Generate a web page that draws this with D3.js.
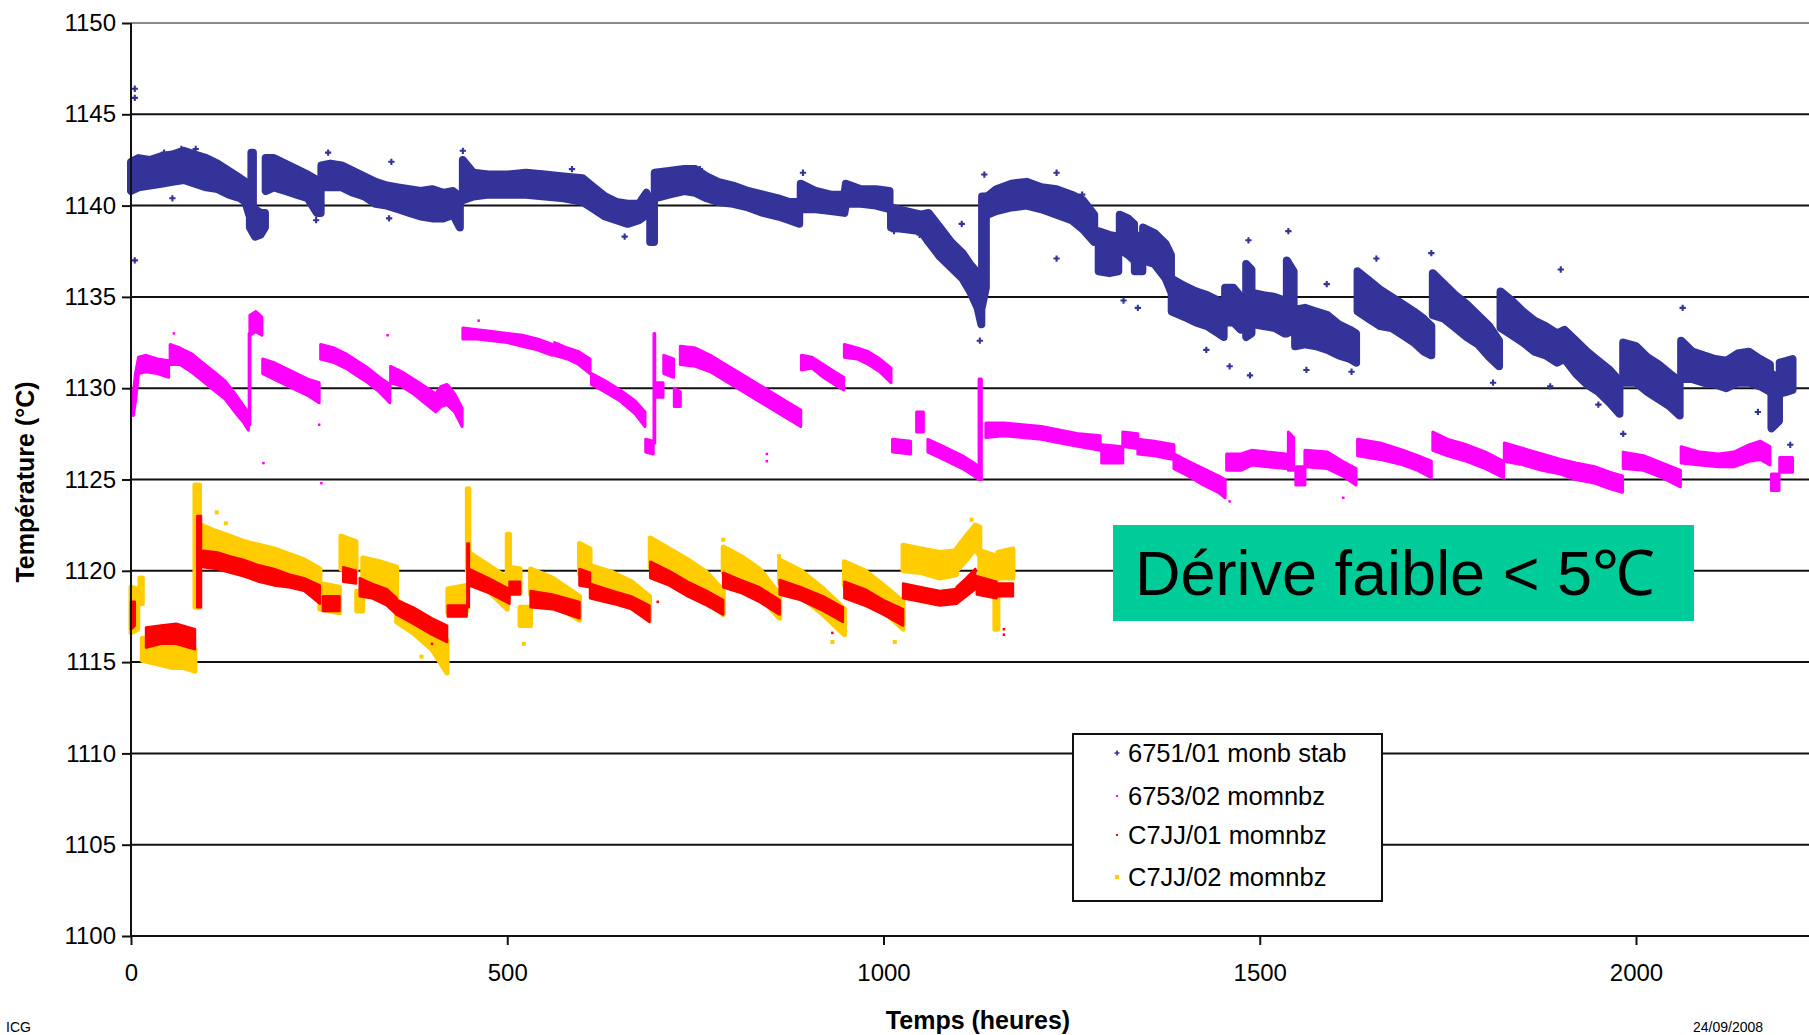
<!DOCTYPE html>
<html>
<head>
<meta charset="utf-8">
<script src="https://cdn.jsdelivr.net/npm/d3@7"></script>
<style>
body { margin: 0; background: #fff; }
text { font-family: "Liberation Sans", Arial, sans-serif; fill: #000; }
</style>
</head>
<body>
<svg id="chart" width="1809" height="1035"></svg>
<script>
// each series: list of contiguous runs, each row = [hours, lowTemp, highTemp]
var blueSegments = [
	[[0,1140.8,1142.4],[10,1141,1142.6],[25,1141.1,1142.5],[40,1141.2,1142.7],[55,1141.3,1142.8],[70,1141.4,1143],[85,1141.2,1142.8],[100,1141,1142.6],[115,1140.9,1142.3],[130,1140.6,1141.9],[145,1140.4,1141.5],[152,1140.2,1141.3],[157,1139.5,1141]],
	[[158,1138.8,1140],[165,1138.3,1139.8],[172,1138.4,1139.6],[178,1138.8,1139.6]],
	[[160,1139,1142.9],[162,1139,1142.9]],
	[[179,1140.8,1142.6],[190,1141,1142.6],[205,1140.8,1142.3],[220,1140.6,1142],[235,1140.4,1141.7],[247,1139.6,1141.4],[252,1139.6,1141]],
	[[253,1141,1142.2],[265,1141,1142.3],[280,1141,1142.2],[295,1140.7,1141.9],[310,1140.5,1141.6],[325,1140.1,1141.3],[340,1140,1141.1],[355,1139.8,1141],[370,1139.6,1140.9],[385,1139.4,1140.8],[400,1139.3,1140.9],[415,1139.3,1140.7],[428,1139.5,1140.8],[437,1138.8,1140.5]],
	[[441,1140.3,1142.5],[455,1140.5,1141.8],[475,1140.6,1141.7],[500,1140.6,1141.7],[525,1140.6,1141.8],[550,1140.5,1141.7],[575,1140.4,1141.6],[600,1140.2,1141.5],[615,1139.8,1141],[630,1139.4,1140.5],[645,1139.2,1140.2],[660,1139,1140.1],[675,1139.2,1140.1],[685,1139.5,1140.7]],
	[[690,1138,1140.5],[695,1138,1140.5]],
	[[696,1140.4,1141.8],[715,1140.6,1141.9],[735,1140.8,1142],[750,1140.7,1142],[765,1140.4,1141.6],[780,1140.2,1141.3],[800,1140.1,1141.1],[820,1139.9,1140.8],[840,1139.6,1140.6],[860,1139.4,1140.4],[875,1139.2,1140.2],[888,1139,1140.2]],
	[[890,1139.8,1141.2],[910,1139.8,1140.8],[930,1139.7,1140.6],[948,1139.6,1140.6],[950,1140.1,1141.2],[970,1140.1,1140.9],[990,1140,1140.9],[1008,1139.8,1140.8]],
	[[1010,1138.8,1139.9],[1030,1138.7,1139.7],[1050,1138.6,1139.5],[1060,1138,1139.6],[1075,1137.2,1138.8],[1090,1136.6,1138],[1105,1136,1137.4],[1115,1135.3,1136.8],[1125,1134.4,1136.3],[1130,1133.5,1135.8]],
	[[1131,1134.5,1140.5],[1136,1135.5,1140.5]],
	[[1138,1139.5,1140.5],[1150,1139.7,1140.9],[1170,1139.9,1141.2],[1190,1140,1141.3],[1210,1139.8,1141],[1230,1139.5,1140.9],[1250,1139.2,1140.6],[1265,1138.7,1140.3],[1280,1138,1139.5]],
	[[1286,1136.4,1138.6],[1300,1136.3,1138.4],[1312,1136.4,1138.3]],
	[[1314,1137.6,1139.5],[1325,1137.3,1139.3],[1333,1137,1139]],
	[[1334,1136.4,1138.4],[1344,1136.4,1138.3]],
	[[1345,1137,1138.8],[1360,1136.8,1138.5],[1375,1136,1137.9],[1382,1135.3,1137.3]],
	[[1383,1134.2,1136],[1400,1133.9,1135.6],[1415,1133.6,1135.3],[1430,1133.4,1135.1],[1445,1133,1134.8],[1452,1132.8,1134.6]],
	[[1454,1133.6,1135.5],[1465,1133.6,1135.5],[1475,1133.2,1135]],
	[[1482,1132.8,1136.8],[1489,1133,1136.5]],
	[[1492,1133.5,1135.2],[1505,1133.4,1135.1],[1520,1133.3,1135],[1533,1133,1134.8]],
	[[1536,1133,1137],[1545,1133.2,1136.4]],
	[[1547,1132.3,1134.3],[1560,1132.4,1134.4],[1575,1132.3,1134.2],[1590,1132.1,1134],[1605,1131.8,1133.5],[1620,1131.6,1133.2],[1628,1131.4,1133]],
	[[1630,1134.2,1136.4],[1645,1133.8,1135.9],[1660,1133.4,1135.4],[1675,1133.3,1135],[1690,1132.9,1134.6],[1705,1132.5,1134.2],[1718,1132,1133.8],[1728,1131.8,1133.4]],
	[[1730,1134,1136.3],[1745,1133.8,1135.7],[1760,1133.3,1135.1],[1775,1132.8,1134.6],[1790,1132.4,1134],[1805,1131.7,1133.4],[1818,1131.2,1132.6]],
	[[1820,1133.3,1135.3],[1835,1132.9,1134.8],[1850,1132.5,1134.2],[1865,1132,1133.7],[1880,1131.8,1133.4],[1895,1131.4,1133],[1905,1131.6,1133.2],[1920,1130.8,1132.6],[1935,1130.2,1132],[1950,1129.8,1131.5],[1965,1129.2,1131],[1978,1128.6,1130.4]],
	[[1983,1130.3,1132.5],[2000,1130.3,1132.3],[2015,1129.8,1131.7],[2030,1129.4,1131.3],[2045,1129,1130.8],[2058,1128.5,1130.4]],
	[[2060,1130.5,1132.6],[2075,1130.5,1132],[2090,1130.3,1131.8],[2105,1130.2,1131.6],[2120,1130,1131.5],[2135,1130.3,1131.9],[2150,1130.3,1132],[2165,1130.1,1131.6],[2178,1129.8,1131.3]],
	[[2180,1127.8,1130.8],[2190,1128.2,1130.5]],
	[[2191,1129.7,1131.4],[2200,1129.8,1131.5],[2208,1129.9,1131.6]]
];
var magentaSegments = [
	[[3,1128.5,1129.7],[6,1129.3,1130.8],[10,1130.8,1131.7],[20,1130.9,1131.8],[35,1130.8,1131.6],[50,1130.6,1131.5]],
	[[52,1131.3,1132.4],[65,1131.3,1132.2],[80,1130.9,1131.9],[95,1130.4,1131.4],[110,1129.9,1130.9],[125,1129.4,1130.4],[140,1128.6,1129.6],[150,1128.1,1129],[156,1127.7,1128.7]],
	[[157,1128,1133],[158,1128,1133]],
	[[158,1132.9,1134],[166,1133.1,1134.2],[174,1132.9,1133.9]],
	[[175,1130.8,1131.6],[190,1130.5,1131.4],[205,1130.2,1131.1],[220,1129.9,1130.8],[235,1129.6,1130.5],[250,1129.2,1130.3]],
	[[252,1131.6,1132.4],[270,1131.4,1132.2],[285,1131.1,1131.9],[300,1130.7,1131.5],[315,1130.3,1131.1],[330,1129.8,1130.6],[344,1129.2,1130.2]],
	[[345,1130.3,1131.2],[360,1130.1,1130.9],[375,1129.7,1130.5],[390,1129.2,1130.1],[405,1128.7,1129.7],[412,1129,1130.1],[420,1129.1,1130.2],[430,1128.7,1129.7],[440,1127.9,1128.9]],
	[[441,1132.7,1133.3],[460,1132.7,1133.2],[480,1132.6,1133.1],[500,1132.5,1133],[520,1132.3,1132.9],[540,1132.1,1132.7],[560,1131.8,1132.4]],
	[[563,1131.8,1132.5],[580,1131.6,1132.2],[595,1131.3,1132],[610,1130.8,1131.6]],
	[[612,1130.2,1130.8],[630,1129.8,1130.4],[650,1129.3,1129.9],[670,1128.6,1129.3],[683,1127.9,1128.7]],
	[[684,1126.5,1127.2],[694,1126.4,1127.1]],
	[[695,1127,1133],[696,1127,1133]],
	[[697,1129.5,1130.3],[707,1129.5,1130.3]],
	[[708,1130.8,1131.8],[721,1130.6,1131.6]],
	[[722,1129,1130],[730,1129,1129.8]],
	[[730,1131.3,1132.3],[750,1131.2,1132.2],[770,1130.9,1131.8],[790,1130.4,1131.3],[810,1129.9,1130.8],[830,1129.4,1130.3],[850,1128.9,1129.8],[870,1128.4,1129.3],[890,1127.9,1128.8]],
	[[891,1131,1131.8],[905,1131.1,1131.7],[920,1130.6,1131.3],[935,1130.2,1130.9],[947,1129.9,1130.6]],
	[[948,1131.7,1132.4],[965,1131.6,1132.2],[980,1131.3,1132],[995,1130.9,1131.6],[1010,1130.3,1131.1]],
	[[1012,1126.5,1127.2],[1036,1126.4,1127.1]],
	[[1044,1127.6,1128.7],[1053,1127.6,1128.7]],
	[[1059,1126.5,1127.2],[1075,1126.2,1126.9],[1090,1125.9,1126.6],[1105,1125.6,1126.3],[1120,1125.2,1125.9],[1127,1125,1125.7]],
	[[1127,1125,1130.5],[1130,1125,1130.5]],
	[[1136,1127.3,1128.1],[1160,1127.4,1128.1],[1185,1127.3,1128],[1210,1127.2,1127.9],[1235,1127,1127.7],[1260,1126.8,1127.5],[1288,1126.6,1127.4]],
	[[1290,1125.9,1126.9],[1318,1125.9,1126.8]],
	[[1318,1126.8,1127.6],[1338,1126.7,1127.5]],
	[[1338,1126.4,1127.2],[1360,1126.3,1127.1],[1386,1126.1,1126.9]],
	[[1386,1125.6,1126.4],[1405,1125.2,1126],[1425,1124.7,1125.6],[1445,1124.3,1125.2],[1454,1124,1125]],
	[[1456,1125.5,1126.4],[1475,1125.5,1126.4],[1490,1125.8,1126.6],[1510,1125.7,1126.5],[1535,1125.6,1126.4]],
	[[1538,1125.5,1127.6],[1545,1125.5,1127.3]],
	[[1548,1124.7,1125.7],[1560,1124.7,1125.7]],
	[[1560,1125.7,1126.6],[1590,1125.6,1126.5],[1610,1125.2,1126],[1628,1124.7,1125.6]],
	[[1630,1126.3,1127.2],[1660,1126.1,1127],[1690,1125.8,1126.6],[1710,1125.5,1126.3],[1728,1125.1,1126]],
	[[1730,1126.6,1127.6],[1750,1126.3,1127.2],[1775,1126,1126.9],[1800,1125.6,1126.5],[1824,1125.1,1126]],
	[[1825,1126,1127],[1850,1125.8,1126.7],[1875,1125.5,1126.4],[1900,1125.3,1126.1],[1920,1125,1125.9],[1945,1124.8,1125.7],[1965,1124.5,1125.4],[1982,1124.3,1125.2]],
	[[1983,1125.6,1126.5],[2010,1125.5,1126.3],[2035,1125.1,1125.9],[2059,1124.6,1125.5]],
	[[2060,1125.9,1126.8],[2085,1125.8,1126.5],[2110,1125.7,1126.4],[2130,1125.7,1126.5],[2150,1126,1126.9],[2165,1126.1,1127.1],[2178,1125.8,1126.8]],
	[[2180,1124.4,1125.3],[2190,1124.4,1125.3]],
	[[2191,1125.4,1126.2],[2208,1125.4,1126.2]]
];
var redSegments = [
	[[0,1116.8,1118.3],[5,1117,1118.3]],
	[[20,1115.8,1116.9],[40,1116,1117],[60,1116,1117.1],[85,1115.7,1116.8]],
	[[88,1118,1123],[93,1118,1123]],
	[[96,1120.2,1121.1],[115,1120.1,1121],[131,1119.9,1120.8],[150,1119.7,1120.6],[170,1119.4,1120.3],[190,1119.2,1120.1],[210,1119.1,1119.8],[230,1118.9,1119.6],[251,1118.2,1119.2]],
	[[255,1117.8,1118.6],[277,1117.8,1118.6]],
	[[282,1119.4,1120.2],[299,1119.3,1120]],
	[[304,1118.6,1119.6],[320,1118.5,1119.3],[340,1118.1,1119],[353,1117.6,1118.5]],
	[[353,1117.6,1118.4],[375,1117.1,1118],[400,1116.5,1117.4],[420,1116.1,1117]],
	[[421,1117.5,1118.1],[446,1117.5,1118.1]],
	[[447,1118,1121.5],[449,1118,1121.5]],
	[[449,1119.2,1120.1],[475,1118.8,1119.6],[503,1118.2,1119]],
	[[503,1118.7,1119.4],[517,1118.7,1119.4]],
	[[531,1118,1118.9],[560,1117.9,1118.7],[596,1117.4,1118.3]],
	[[596,1119.2,1120.1],[610,1119.1,1119.9]],
	[[610,1118.5,1119.3],[640,1118.2,1118.9],[665,1117.9,1118.6],[689,1117.2,1118.1]],
	[[690,1119.6,1120.5],[715,1119.2,1120],[740,1118.6,1119.4],[765,1118.1,1118.9],[787,1117.6,1118.4]],
	[[787,1119.1,1119.9],[810,1118.8,1119.5],[835,1118.3,1119.1],[862,1117.6,1118.4]],
	[[862,1118.7,1119.5],[890,1118.4,1119.1],[920,1117.8,1118.6],[946,1117.2,1118]],
	[[948,1118.5,1119.4],[975,1118.1,1119],[1000,1117.6,1118.4],[1026,1117,1117.9]],
	[[1026,1118.5,1119.3],[1050,1118.3,1119.1],[1075,1118.1,1118.9],[1097,1118.2,1119]],
	[[1097,1118.2,1119.1],[1110,1118.6,1119.6],[1122,1119,1120.1]],
	[[1124,1118.7,1119.7],[1150,1118.5,1119.4]],
	[[1152,1118.6,1119.3],[1172,1118.6,1119.3]]
];
var yellowSegments = [
	[[0,1116.6,1119.1],[9,1116.8,1119]],
	[[12,1118.2,1119.6],[15,1118.2,1119.6]],
	[[15,1115.1,1116.3],[35,1114.9,1116.1],[55,1114.7,1116.1],[70,1114.7,1115.9],[85,1114.5,1115.7]],
	[[85,1118,1124.7],[91,1118,1124.7]],
	[[93,1121,1122.5],[110,1120.9,1122.2],[131,1120.7,1121.9],[150,1120.4,1121.6],[170,1120.2,1121.4],[190,1119.9,1121.2],[210,1119.6,1120.9],[230,1119.3,1120.6],[251,1118.8,1120.1]],
	[[251,1117.9,1119.3],[277,1117.7,1119.1]],
	[[279,1120.1,1121.9],[299,1120,1121.6]],
	[[300,1117.8,1118.9],[308,1117.8,1118.9]],
	[[308,1119.1,1120.7],[330,1118.9,1120.5],[353,1118.5,1120.2]],
	[[353,1117.2,1118.4],[375,1116.6,1117.8],[400,1115.7,1117],[420,1114.4,1116.2]],
	[[421,1117.7,1119],[446,1117.8,1119.2]],
	[[447,1120,1124.5],[449,1120,1124.5]],
	[[449,1119.6,1121],[475,1118.9,1120.3],[500,1117.9,1119.6]],
	[[500,1119.5,1122],[503,1119.5,1122]],
	[[503,1118.9,1120.2],[517,1118.8,1120.1]],
	[[517,1117,1118],[531,1117,1118]],
	[[531,1118.7,1120.1],[560,1118.2,1119.6],[596,1117.3,1118.6]],
	[[596,1119.8,1121.5],[610,1119.6,1121.2]],
	[[610,1119.2,1120.3],[640,1118.7,1119.9],[665,1118.1,1119.4],[689,1117.3,1118.6]],
	[[690,1120.2,1121.8],[715,1119.7,1121.2],[740,1119,1120.6],[765,1118.3,1119.9],[787,1117.6,1118.9]],
	[[787,1119.9,1121.3],[810,1119.3,1120.8],[835,1118.6,1120.1],[862,1117.4,1118.7]],
	[[862,1119.3,1120.6],[890,1118.6,1120],[920,1117.6,1119],[948,1116.5,1117.9]],
	[[948,1119.2,1120.5],[975,1118.5,1120],[1000,1117.8,1119.2],[1026,1116.8,1118.3]],
	[[1026,1120,1121.4],[1050,1119.9,1121.2],[1075,1119.6,1121],[1097,1119.8,1121.1]],
	[[1097,1120,1121.2],[1110,1120.6,1121.9],[1122,1121.2,1122.5],[1128,1120.8,1122.4]],
	[[1128,1119.6,1121.1],[1150,1119.5,1120.8]],
	[[1148,1116.8,1119],[1152,1116.8,1119]],
	[[1152,1119.6,1121],[1172,1119.6,1121.2]]
];

// stray points [hours, temp]
var blueOutliers = [[5,1146.4],[5,1145.9],[5,1137],[44,1142.9],[55,1140.4],[67,1143.1],[86,1143.1],[246,1139.2],[262,1142.9],
	[343,1139.3],[346,1142.4],[441,1143],[441,1142.5],[586,1142],[656,1138.3],[756,1142],[893,1141.8],[1014,1138.6],
	[1048,1138.4],[1104,1139],[1128,1132.6],[1134,1141.7],[1230,1141.8],[1230,1137.1],[1264,1140.6],[1319,1134.8],
	[1338,1134.4],[1429,1132.1],[1460,1131.2],[1485,1138.1],[1487,1130.7],[1538,1138.6],[1562,1131],[1589,1135.7],
	[1622,1130.9],[1655,1137.1],[1728,1137.4],[1810,1130.3],[1886,1130.1],[1900,1136.5],[1950,1129.1],[1983,1127.5],
	[2062,1134.4],[2162,1128.7],[2205,1126.9]];
var magentaOutliers = [[57,1133],[176,1125.9],[250,1128],[253,1124.8],[341,1132.9],[462,1133.7],[845,1126.4],[845,1126],[1611,1124],[1460,1123.8]];
var redOutliers = [[1160,1116.8],[1160,1116.5],[400,1116],[700,1118.3],[932,1116.6]];
var yellowOutliers = [[114,1123.2],[126,1122.6],[386,1115.3],[522,1116],[787,1121.7],[861,1120.8],[932,1116.1],[1015,1116.1],[1117,1122.8]];

var yTicks = [1100, 1105, 1110, 1115, 1120, 1125, 1130, 1135, 1140, 1145, 1150];
var xTicks = [0, 500, 1000, 1500, 2000];
var legendLabels = ["6751/01 monb stab", "6753/02 momnbz", "C7JJ/01 momnbz", "C7JJ/02 momnbz"];
var seriesColors = ["#333399", "#ff00ff", "#ff0000", "#ffcc00"];

var svg = d3.select("#chart");
var W = 1809, H = 1035;
var LEFT = 131, AXIS_Y = 936;

var x = d3.scaleLinear().domain([0, 2000]).range([LEFT, 1636]);
var y = d3.scaleLinear().domain([1100, 1150]).range([AXIS_Y, 23]);

svg.append("rect").attr("width", W).attr("height", H).attr("fill", "#fff");

// grid lines
svg.append("g").selectAll("line")
	.data(yTicks.slice(1))
	.enter().append("line")
	.attr("x1", LEFT).attr("x2", W)
	.attr("y1", function (d) { return y(d); })
	.attr("y2", function (d) { return y(d); })
	.attr("stroke", function (d) { return d == 1150 ? "#8a8a8a" : "#111"; })
	.attr("stroke-width", 2);

// bands, stroked in their own colour so the edge is as wide as the markers
var area = d3.area()
	.x(function (d) { return x(d[0]); })
	.y0(function (d) { return y(d[1]); })
	.y1(function (d) { return y(d[2]); });

function drawBands(segs, color, sw) {
	svg.append("g").selectAll("path")
		.data(segs)
		.enter().append("path")
		.attr("d", area)
		.attr("fill", color)
		.attr("stroke", color)
		.attr("stroke-width", sw)
		.attr("stroke-linejoin", "round");
}
drawBands(blueSegments, seriesColors[0], 8);
drawBands(magentaSegments, seriesColors[1], 3);
drawBands(yellowSegments, seriesColors[3], 5);
drawBands(redSegments, seriesColors[2], 2.5);

svg.append("g").selectAll("path")
	.data(blueOutliers)
	.enter().append("path")
	.attr("d", d3.symbol().type(d3.symbolCross).size(22))
	.attr("transform", function (d) { return "translate(" + x(d[0]) + "," + y(d[1]) + ")"; })
	.attr("fill", seriesColors[0]);

function drawDots(pts, color, s) {
	svg.append("g").selectAll("rect")
		.data(pts)
		.enter().append("rect")
		.attr("x", function (d) { return x(d[0]) - s / 2; })
		.attr("y", function (d) { return y(d[1]) - s / 2; })
		.attr("width", s).attr("height", s)
		.attr("fill", color);
}
drawDots(magentaOutliers, seriesColors[1], 2.5);
drawDots(redOutliers, seriesColors[2], 2.5);
drawDots(yellowOutliers, seriesColors[3], 4);

// axes
var yAxis = d3.axisLeft(y).tickValues(yTicks).tickSize(9).tickPadding(6).tickFormat(d3.format("d"));
var gy = svg.append("g").attr("transform", "translate(" + LEFT + ",0)").call(yAxis);
var xAxis = d3.axisBottom(x).tickValues(xTicks).tickSize(9).tickPadding(19).tickFormat(d3.format("d"));
var gx = svg.append("g").attr("transform", "translate(0," + AXIS_Y + ")").call(xAxis);
gx.select(".domain").remove();
gy.select(".domain").remove();
[gx, gy].forEach(function (g) {
	g.selectAll("line").attr("stroke", "#111").attr("stroke-width", 2);
	g.selectAll("text").style("font-size", "24px").attr("fill", "#222");
});
svg.append("line").attr("x1", LEFT).attr("x2", W).attr("y1", AXIS_Y).attr("y2", AXIS_Y)
	.attr("stroke", "#111").attr("stroke-width", 2);
svg.append("line").attr("x1", LEFT).attr("x2", LEFT).attr("y1", 23).attr("y2", AXIS_Y)
	.attr("stroke", "#111").attr("stroke-width", 2);

// axis titles
svg.append("text").attr("x", 978).attr("y", 1029).attr("text-anchor", "middle")
	.style("font-size", "25px").style("font-weight", "bold").text("Temps (heures)");
svg.append("text").attr("transform", "translate(34,482) rotate(-90)").attr("text-anchor", "middle")
	.style("font-size", "25px").style("font-weight", "bold").text("Température (°C)");

// footer bits along the bottom edge
svg.append("text").attr("x", 6).attr("y", 1032).style("font-size", "14px").attr("fill", "#222").text("ICG");
svg.append("text").attr("x", 1693).attr("y", 1032).style("font-size", "14px").attr("fill", "#222").text("24/09/2008");

// legend
var legend = svg.append("g");
legend.append("rect").attr("x", 1073).attr("y", 734).attr("width", 309).attr("height", 167)
	.attr("fill", "#fff").attr("stroke", "#111").attr("stroke-width", 2);
var ly = [753, 796, 835, 877];
legend.selectAll("text.lab")
	.data(legendLabels)
	.enter().append("text")
	.attr("class", "lab")
	.attr("x", 1128)
	.attr("y", function (d, i) { return ly[i] + 9; })
	.style("font-size", "25.5px")
	.attr("fill", "#222")
	.text(function (d) { return d; });
legend.append("path")
	.attr("d", d3.symbol().type(d3.symbolCross).size(14))
	.attr("transform", "translate(1117," + ly[0] + ")")
	.attr("fill", seriesColors[0]);
legend.selectAll("rect.mk")
	.data([1, 2, 3])
	.enter().append("rect")
	.attr("class", "mk")
	.attr("x", function (d) { return d == 3 ? 1115 : 1116; })
	.attr("y", function (d) { return ly[d] - (d == 3 ? 2 : 1); })
	.attr("width", function (d) { return d == 3 ? 4 : 2; })
	.attr("height", function (d) { return d == 3 ? 4 : 2; })
	.attr("fill", function (d) { return seriesColors[d]; });

// annotation
svg.append("rect").attr("x", 1113).attr("y", 525).attr("width", 581).attr("height", 96).attr("fill", "#00cc99");
svg.append("text").attr("x", 1135).attr("y", 595).style("font-size", "63px").text("Dérive faible < 5℃");
</script>
</body>
</html>
